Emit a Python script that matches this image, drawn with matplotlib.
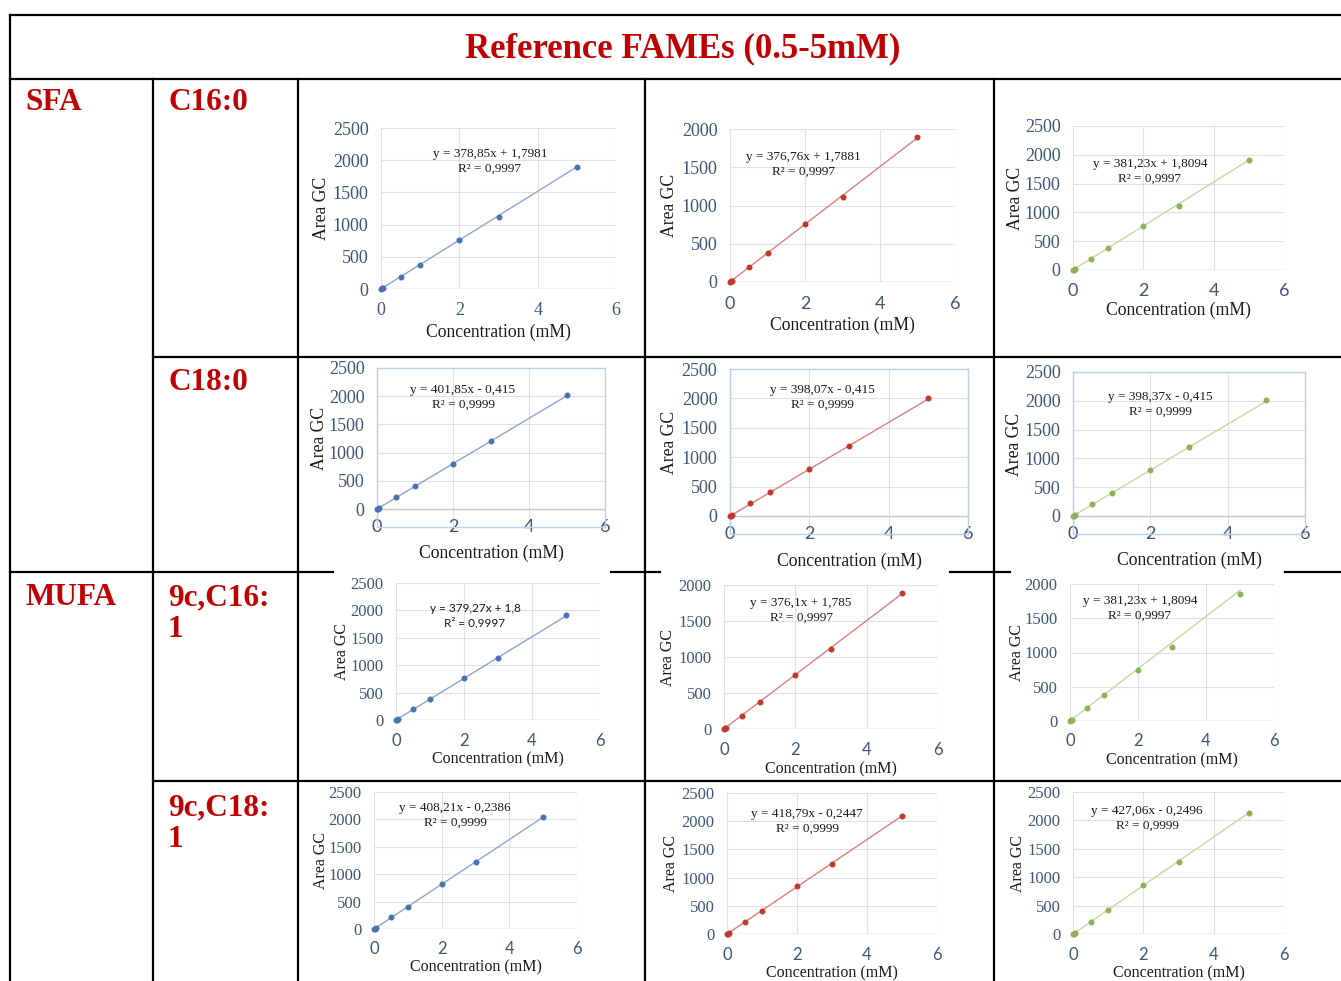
import matplotlib

matplotlib.use("Agg")

import matplotlib.pyplot as plt
from matplotlib.lines import Line2D

W, H = 1341, 981

# ---- data ----
title = "Reference FAMEs (0.5-5mM)"
group_labels = ["SFA", "MUFA"]
fame_labels = ["C16:0", "C18:0", "9c,C16:\n1", "9c,C18:\n1"]

conc = [0, 0.02, 0.05, 0.5, 1, 2, 3, 5]

area_c160 = [
    [0, 8, 19, 190, 378, 760, 1115, 1900],
    [0, 8, 19, 195, 385, 755, 1105, 1890],
    [0, 8, 19, 195, 380, 760, 1110, 1915],
]
area_c180 = [
    [0, 8, 20, 215, 410, 805, 1200, 2020],
    [0, 8, 20, 215, 405, 800, 1195, 2000],
    [0, 8, 20, 210, 405, 805, 1195, 2015],
]
area_c161 = [
    [0, 8, 19, 200, 385, 770, 1130, 1910],
    [0, 8, 19, 185, 370, 750, 1105, 1885],
    [0, 8, 19, 190, 375, 740, 1085, 1860],
]
area_c181 = [
    [0, 8, 20, 210, 405, 830, 1215, 2045],
    [0, 8, 21, 215, 410, 855, 1240, 2090],
    [0, 8, 21, 215, 420, 870, 1260, 2130],
]
areas = [area_c160, area_c180, area_c161, area_c181]

slopes = [
    [378.85, 376.76, 381.23],
    [401.85, 398.07, 398.37],
    [379.27, 376.1, 381.23],
    [408.21, 418.79, 427.06],
]
intercepts = [
    [1.7981, 1.7881, 1.8094],
    [-0.415, -0.415, -0.415],
    [1.8, 1.785, 1.8094],
    [-0.2386, -0.2447, -0.2496],
]
eq_text = [
    ["y = 378,85x + 1,7981", "y = 376,76x + 1,7881", "y = 381,23x + 1,8094"],
    ["y = 401,85x - 0,415", "y = 398,07x - 0,415", "y = 398,37x - 0,415"],
    ["y = 379,27x + 1,8", "y = 376,1x + 1,785", "y = 381,23x + 1,8094"],
    ["y = 408,21x - 0,2386", "y = 418,79x - 0,2447", "y = 427,06x - 0,2496"],
]
r2_text = [
    ["R² = 0,9997"] * 3,
    ["R² = 0,9999"] * 3,
    ["R² = 0,9997"] * 3,
    ["R² = 0,9999"] * 3,
]
y_max = [
    [2500, 2000, 2500],
    [2500, 2500, 2500],
    [2500, 2000, 2000],
    [2500, 2500, 2500],
]

# ---- styling / layout ----
RED = "#C00000"
TICK = "#3E5573"
SERIF = ["Liberation Serif", "DejaVu Serif"]
SANS = ["Lato", "DejaVu Sans"]
marker_colors = ["#4A72B0", "#C0392B", "#8DB255"]
line_colors = ["#8EA6CC", "#D98080", "#C6D8A2"]

# x0, x6, y0, ytop, frame bottom, ylabel x, xlabel y, xtick y, eq x, eq y
layout = [
    [(381, 616, 289, 128, None, 321, 332, 310, 490, 154),
     (730, 955, 282, 129, None, 670, 325, 304, 803, 157),
     (1073, 1284, 270, 126, None, 1016, 310, 291, 1150, 164)],
    [(377, 605, 509, 368, 527, 320, 553, 527, 463, 390),
     (730, 968, 516, 369, 534, 670, 561, 534, 822, 390),
     (1073, 1305, 516, 372, 534, 1015, 560, 534, 1160, 397)],
    [(396, 600, 720, 583, None, 342, 759, 741, 475, 608),
     (724, 938, 729, 585, None, 668, 769, 750, 801, 603),
     (1070, 1274, 721, 584, None, 1017, 760, 741, 1140, 601)],
    [(374, 577, 929, 792, None, 321, 967, 949, 455, 808),
     (727, 937, 934, 793, None, 671, 973, 955, 807, 814),
     (1073, 1284, 934, 792, None, 1018, 973, 955, 1147, 811)],
]


def fx(x):
    return x / W


def fy(y):
    return 1 - y / H


fig = plt.figure(figsize=(W / 100, H / 100), dpi=100)
fig.patch.set_facecolor("white")

# table rules
h_rules = [
    (15, 10, W), (79, 10, W), (357, 153, W),
    (572, 10, 333), (572, 611, 660), (572, 950, 1010), (572, 1285, W),
    (781, 153, W),
]
v_rules = [(10, 15, H), (153, 79, H), (298, 79, H), (645, 79, H), (994, 79, H)]
for y, xa, xb in h_rules:
    fig.add_artist(Line2D([fx(xa), fx(xb)], [fy(y), fy(y)], color="black", lw=1.6))
for x, ya, yb in v_rules:
    fig.add_artist(Line2D([fx(x), fx(x)], [fy(ya), fy(yb)], color="black", lw=1.6))

fig.text(fx(683), fy(49), title, ha="center", va="center", color=RED,
         fontsize=25, fontweight="bold", family=SERIF)

for label, y in zip(group_labels, [88, 583]):
    fig.text(fx(25), fy(y), label, ha="left", va="top", color=RED,
             fontsize=22.5, fontweight="bold", family=SERIF)
for label, y in zip(fame_labels, [88, 368, 583, 793]):
    fig.text(fx(168), fy(y), label, ha="left", va="top", color=RED,
             fontsize=22.5, fontweight="bold", family=SERIF, linespacing=1.15)

for r in range(4):
    small = r >= 2
    tick_fs = 12 if small else 13
    lab_fs = 11.5 if small else 12.7
    for c in range(3):
        x0, x6, y0, ytop, fb, ylx, xly, xty, eqx, eqy = layout[r][c]
        ymax = y_max[r][c]
        bottom = fb if fb is not None else y0
        ymin = -(bottom - y0) / (y0 - ytop) * ymax
        ax = fig.add_axes([fx(x0), fy(bottom), (x6 - x0) / W, (bottom - ytop) / H])
        ax.set_xlim(0, 6)
        ax.set_ylim(ymin, ymax)
        ax.set_xticks([0, 2, 4, 6])
        ax.set_yticks(list(range(0, ymax + 1, 500)))
        ax.grid(True, color="#E1E1E1", lw=0.8)
        ax.set_axisbelow(True)
        ax.axhline(0, color="#C8C8C8", lw=1.0, zorder=1)
        for side, sp in ax.spines.items():
            if fb is not None:
                sp.set_color("#BCD0EA")
                sp.set_linewidth(1.0)
            else:
                sp.set_visible(False)

        xpad = (xty - bottom) * 0.72
        ax.tick_params(axis="both", length=0, colors=TICK, labelsize=tick_fs)
        ax.tick_params(axis="x", pad=xpad)
        ax.tick_params(axis="y", pad=9)
        x_family = SERIF if (r, c) == (0, 0) else SANS
        for t in ax.get_xticklabels():
            t.set_family(x_family)
            t.set_va("center")
        for t in ax.get_yticklabels():
            t.set_family(SERIF)

        m, b = slopes[r][c], intercepts[r][c]
        ax.plot([0, 5], [b, m * 5 + b], color=line_colors[c], lw=1.0, zorder=2)
        ax.plot(conc, areas[r][c], "o", color=marker_colors[c], ms=3.3,
                clip_on=False, zorder=3)

        fig.text(fx(ylx), fy((ytop + y0) / 2), "Area GC", rotation=90,
                 ha="center", va="center", fontsize=lab_fs, family=SERIF, color="#1a1a1a")
        fig.text(fx((x0 + x6) / 2), fy(xly), "Concentration (mM)", ha="center",
                 va="center", fontsize=lab_fs, family=SERIF, color="#1a1a1a")
        eq_family = SANS if (r, c) == (2, 0) else SERIF
        eq_fs = 8.5 if eq_family == SANS else 9.5
        fig.text(fx(eqx), fy(eqy), eq_text[r][c], ha="center", va="center",
                 fontsize=eq_fs, family=eq_family, color="#1a1a1a")
        fig.text(fx(eqx), fy(eqy + 15), r2_text[r][c], ha="center", va="center",
                 fontsize=eq_fs, family=eq_family, color="#1a1a1a")

fig.savefig("out.png", dpi=100)
